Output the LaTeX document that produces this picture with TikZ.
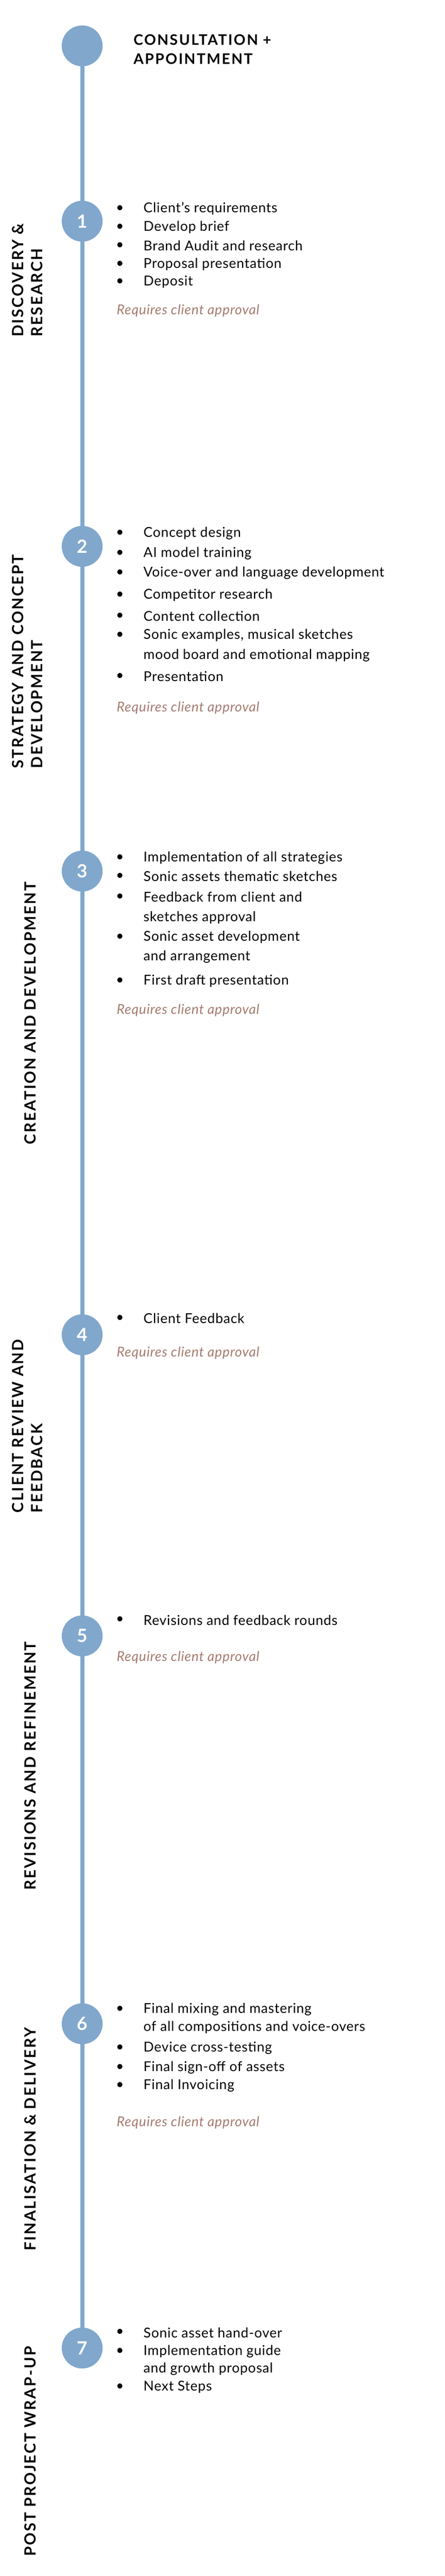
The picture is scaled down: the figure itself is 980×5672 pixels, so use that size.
\documentclass[tikz,border=0pt]{standalone}
\usepackage{fontspec}
\setmainfont{Lato}
\newfontfamily\itemfont[LetterSpace=3]{Lato}
\newfontfamily\headfont[LetterSpace=9]{Lato}
\usepackage{tikz}
\usetikzlibrary{positioning}

\definecolor{stepblue}{HTML}{81A7CC}
\definecolor{approval}{HTML}{A47B70}

\tikzset{
  stepdot/.style={circle, fill=stepblue, minimum size=90pt, inner sep=0pt, text=white, font=\fontsize{40}{40}\selectfont\bfseries},
  item/.style={anchor=west, inner sep=0pt, font=\itemfont\fontsize{30}{36}\selectfont},
  bullet/.style={anchor=center, inner sep=0pt, font=\fontsize{30}{36}\selectfont},
  approval/.style={anchor=west, inner sep=0pt, text=approval, font=\itemfont\itshape\fontsize{30}{36}\selectfont},
  phase/.style={rotate=90, anchor=west, align=left, inner sep=0pt, font=\headfont\bfseries\fontsize{34}{42}\selectfont},
}

\newcommand\bulletlist[1]{%
  \foreach \yy/\tt in {#1} {
    \node[bullet] at (264,\yy) {•};
    \node[item] at (316,\yy) {\tt};
  }}
\newcommand\morelines[1]{%
  \foreach \yy/\tt in {#1} {
    \node[item] at (316,\yy) {\tt};
  }}

\begin{document}
\begin{tikzpicture}[x=1pt, y=-1pt]

\useasboundingbox (0,0) rectangle (980,5672);

% timeline
\coordinate (top) at (181,101);
\coordinate (bottom) at (181,5170);
\draw[stepblue, line width=9pt] (top) -- (bottom);

\node[stepdot] (s0) at (181,101) {};
\node[stepdot] (s1) at (181,487) {1};
\node[stepdot] (s2) at (181,1203) {2};
\node[stepdot] (s3) at (181,1918) {3};
\node[stepdot] (s4) at (181,2939) {4};
\node[stepdot] (s5) at (181,3602) {5};
\node[stepdot] (s6) at (181,4456) {6};
\node[stepdot] (s7) at (181,5170) {7};

\node[anchor=west, align=left, inner sep=0pt, font=\headfont\bfseries\fontsize{32}{42}\selectfont] (title) at (294,109) {CONSULTATION +\\APPOINTMENT};

% phase labels
\node[phase] (discovery) at (60,742) {DISCOVERY \&\\RESEARCH};
\node[phase] (strategy) at (60,1692) {STRATEGY AND CONCEPT\\DEVELOPMENT};
\node[phase] (creation) at (66,2520) {CREATION AND DEVELOPMENT};
\node[phase] (review) at (60,3331) {CLIENT REVIEW AND\\FEEDBACK};
\node[phase] (revisions) at (66,4162) {REVISIONS AND REFINEMENT};
\node[phase] (delivery) at (66,4956) {FINALISATION \& DELIVERY};
\node[phase] (wrapup) at (66,5629) {POST PROJECT WRAP-UP};

% 1
\bulletlist{459/Client’s requirements, 500/Develop brief, 541/Brand Audit and research, 582/Proposal presentation, 621/Deposit}
\node[approval] (ok1) at (257,684) {Requires client approval};

% 2
\bulletlist{1174/Concept design, 1218/AI model training, 1262/Voice-over and language development, 1310/Competitor research, 1357/Content collection, 1399/{Sonic examples, musical sketches}, 1489/Presentation}
\morelines{1443/mood board and emotional mapping}
\node[approval] (ok2) at (257,1559) {Requires client approval};

% 3
\bulletlist{1889/Implementation of all strategies, 1930/Sonic assets thematic sketches, 1975/Feedback from client and, 2063/Sonic asset development, 2160/First draft presentation}
\morelines{2020/sketches approval, 2107/and arrangement}
\node[approval] (ok3) at (257,2225) {Requires client approval};

% 4
\bulletlist{2903/Client Feedback}
\node[approval] (ok4) at (257,2979) {Requires client approval};

% 5
\bulletlist{3567/Revisions and feedback rounds}
\node[approval] (ok5) at (257,3649) {Requires client approval};

% 6
\bulletlist{4424/Final mixing and mastering, 4509/Device cross-testing, 4552/Final sign-off of assets, 4592/Final Invoicing}
\morelines{4464/of all compositions and voice-overs}
\node[approval] (ok6) at (257,4674) {Requires client approval};

% 7
\bulletlist{5136/Sonic asset hand-over, 5177/Implementation guide, 5256/Next Steps}
\morelines{5216/and growth proposal}

\end{tikzpicture}
\end{document}
